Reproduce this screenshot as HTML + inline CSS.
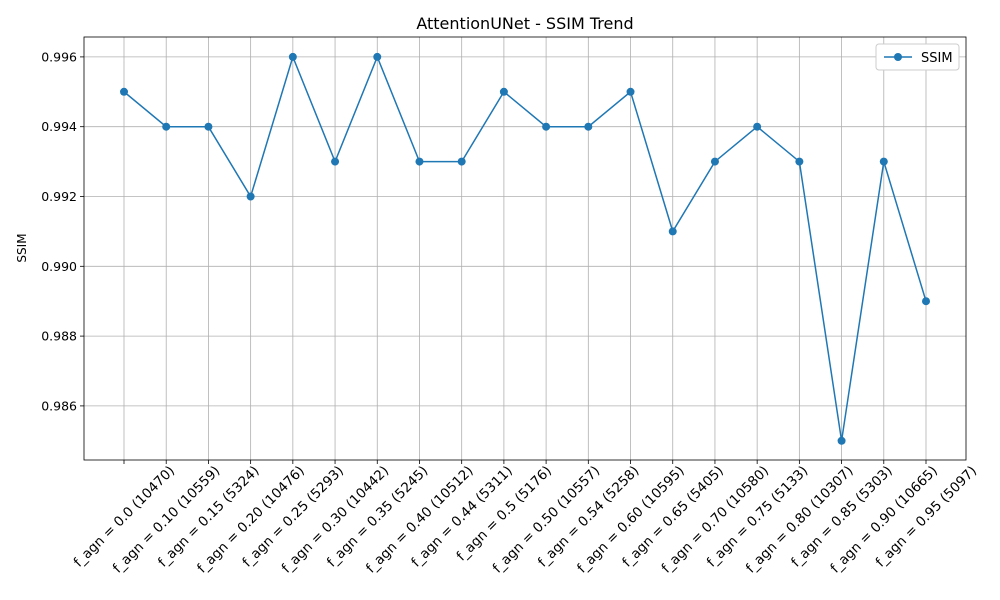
<!DOCTYPE html>
<html><head><meta charset="utf-8"><style>
body{margin:0;background:#fff;}
svg{display:block;font-family:"DejaVu Sans","Liberation Sans",sans-serif;}
</style></head><body>
<svg id="chart" width="1000" height="600">
<rect width="1000" height="600" fill="#fff"/>
<text x="525" y="29" text-anchor="middle" font-size="16" fill="#000">AttentionUNet - SSIM Trend</text>
<text transform="translate(26,248) rotate(-90)" text-anchor="middle" font-size="12" fill="#000">SSIM</text>
<g id="grid"></g><g id="axes"></g><g id="series"></g>
<g>
<rect x="876" y="44" width="83" height="26" fill="#fff" stroke="#ccc" rx="3"/>
<line x1="884" y1="57" x2="912" y2="57" stroke="#1f77b4" stroke-width="1.5"/>
<circle cx="898" cy="57" r="4" fill="#1f77b4"/>
<text x="921" y="62" font-size="13">SSIM</text>
</g>
</svg>
<script>
const categories=["f_agn = 0.0 (10470)","f_agn = 0.10 (10559)","f_agn = 0.15 (5324)","f_agn = 0.20 (10476)","f_agn = 0.25 (5293)","f_agn = 0.30 (10442)","f_agn = 0.35 (5245)","f_agn = 0.40 (10512)","f_agn = 0.44 (5311)","f_agn = 0.5 (5176)","f_agn = 0.50 (10557)","f_agn = 0.54 (5258)","f_agn = 0.60 (10595)","f_agn = 0.65 (5405)","f_agn = 0.70 (10580)","f_agn = 0.75 (5133)","f_agn = 0.80 (10307)","f_agn = 0.85 (5303)","f_agn = 0.90 (10665)","f_agn = 0.95 (5097)"];
const ssimValues=[0.995,0.994,0.994,0.992,0.996,0.993,0.996,0.993,0.993,0.995,0.994,0.994,0.995,0.991,0.993,0.994,0.993,0.985,0.993,0.989];
const yTicks=[0.986,0.988,0.990,0.992,0.994,0.996];
const NS="http://www.w3.org/2000/svg";
const L=84,R=966,T=37,B=460;
const yMin=0.98445,yMax=0.99657;
const x=i=>124+i*(926-124)/(categories.length-1);
const y=v=>B-(v-yMin)/(yMax-yMin)*(B-T);
function mk(tag,attrs,parent){const e=document.createElementNS(NS,tag);for(const k in attrs)e.setAttribute(k,attrs[k]);parent.appendChild(e);return e;}
const grid=document.getElementById('grid'),axes=document.getElementById('axes'),series=document.getElementById('series');
categories.forEach((c,i)=>{
 const g=mk('line',{x1:x(i),x2:x(i),y1:T,y2:B,stroke:'#b0b0b0','stroke-width':0.8},grid);
 
 
 mk('line',{x1:x(i),x2:x(i),y1:B,y2:B+4,stroke:'#000','stroke-width':0.8},axes);
 const t=mk('text',{'font-size':13.5,'text-anchor':'middle'},axes);
 t.textContent=c;
 
 
 const len=t.getComputedTextLength();
 const cy=464+(len*0.707+12*0.707)/2;
 t.setAttribute('x',x(i));t.setAttribute('y',cy+4.5);
 t.setAttribute('transform',`rotate(-45 ${x(i)} ${cy})`);
});
yTicks.forEach(v=>{
 const g=mk('line',{x1:L,x2:R,y1:y(v),y2:y(v),stroke:'#b0b0b0','stroke-width':0.8},grid);
 
 
 mk('line',{x1:L-4,x2:L,y1:y(v),y2:y(v),stroke:'#000','stroke-width':0.8},axes);
 const t=mk('text',{x:L-7,y:y(v)+4.5,'font-size':12.5,'text-anchor':'end'},axes);
 t.textContent=v.toFixed(3);
 
 
});
const fr=mk('rect',{x:L,y:T,width:R-L,height:B-T,fill:'none',stroke:'#000','stroke-width':0.8},axes);


const line=mk('polyline',{points:ssimValues.map((v,i)=>x(i)+','+y(v)).join(' '),fill:'none',stroke:'#1f77b4','stroke-width':1.5},series);


ssimValues.forEach((v,i)=>{
 const p=mk('circle',{cx:x(i),cy:y(v),r:4,fill:'#1f77b4'},series);
 
 
});
</script>
</body></html>
